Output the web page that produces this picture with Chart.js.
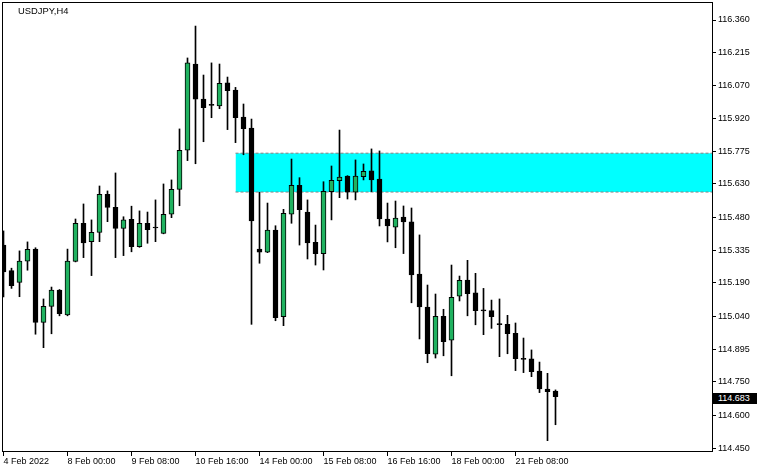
<!DOCTYPE html>
<html>
<head>
<meta charset="utf-8">
<script src="https://cdn.jsdelivr.net/npm/chart.js@4"></script>
<style>
html,body{margin:0;padding:0;background:#fff;}
#wrap{position:relative;width:757px;height:473px;overflow:hidden;}
canvas{display:block;}
#title{position:absolute;left:18px;top:5px;font:9.4px 'Liberation Sans',Arial,sans-serif;color:#000;line-height:11px;white-space:nowrap;}
#price{position:absolute;left:713px;width:44px;height:11px;background:#000;color:#fff;font:9px 'Liberation Sans',Arial,sans-serif;line-height:11px;padding-left:5px;box-sizing:border-box;white-space:nowrap;}
</style>
</head>
<body>
<div id="wrap">
<canvas id="c" width="757" height="473"></canvas>
<div id="title"></div>
<div id="price"></div>
</div>
<script>
// ---- data ----
const symbolLabel = 'USDJPY,H4';
const xTickIndex = [0, 8, 16, 24, 32, 40, 48, 56, 64];
const xTickLabels = ['4 Feb 2022', '8 Feb 00:00', '9 Feb 08:00', '10 Feb 16:00', '14 Feb 00:00',
  '15 Feb 08:00', '16 Feb 16:00', '18 Feb 00:00', '21 Feb 08:00'];
const yTickLabels = ['114.450', '114.600', '114.750', '114.895', '115.040', '115.190', '115.335',
  '115.480', '115.630', '115.775', '115.920', '116.070', '116.215', '116.360'];

const opens = [115.358,115.244,115.192,115.286,115.340,115.014,115.085,115.158,115.047,115.285,
  115.455,115.373,115.414,115.584,115.526,115.432,115.472,115.351,115.455,115.437,
  115.410,115.496,115.606,115.780,116.164,116.008,115.982,115.978,116.080,116.048,
  115.928,115.879,115.340,115.326,115.425,115.039,115.495,115.624,115.505,115.370,
  115.320,115.596,115.645,115.665,115.593,115.662,115.688,115.652,115.474,115.438,
  115.483,115.461,115.229,115.082,114.872,115.041,114.934,115.130,115.202,115.145,
  115.068,115.066,115.007,115.005,114.965,114.852,114.851,114.797,114.717,114.708];
const highs = [115.421,115.255,115.332,115.372,115.346,115.118,115.171,115.160,115.340,115.474,
  115.541,115.470,115.621,115.599,115.679,115.484,115.531,115.510,115.505,115.559,
  115.630,115.648,115.875,116.191,116.333,116.115,116.169,116.164,116.106,116.060,
  115.986,115.919,115.593,115.545,115.444,115.517,115.741,115.658,115.559,115.447,
  115.640,115.710,115.870,115.667,115.737,115.719,115.786,115.777,115.545,115.554,
  115.532,115.523,115.403,115.180,115.140,115.072,115.269,115.220,115.290,115.232,
  115.165,115.113,115.118,115.045,115.011,114.944,114.891,114.837,114.787,114.713];
const lows = [115.127,115.165,115.128,115.246,114.961,114.901,114.963,115.043,115.043,115.283,
  115.302,115.222,115.373,115.462,115.302,115.311,115.328,115.348,115.366,115.373,
  115.408,115.480,115.533,115.734,115.720,115.818,115.925,115.965,115.872,115.814,
  115.760,115.005,115.277,115.324,115.021,114.999,115.455,115.358,115.296,115.269,
  115.247,115.470,115.569,115.563,115.559,115.648,115.596,115.443,115.372,115.346,
  115.320,115.101,114.940,114.834,114.855,114.865,114.776,115.109,115.043,115.003,
  114.959,114.987,114.861,114.874,114.799,114.790,114.772,114.701,114.487,114.558];
const closes = [115.238,115.177,115.287,115.339,115.014,115.085,115.158,115.052,115.287,115.455,
  115.368,115.415,115.584,115.526,115.432,115.470,115.351,115.455,115.426,115.434,
  115.495,115.606,115.780,116.169,116.007,115.970,115.980,116.078,116.045,115.925,
  115.876,115.466,115.326,115.425,115.035,115.499,115.624,115.515,115.368,115.320,
  115.597,115.646,115.661,115.593,115.665,115.686,115.648,115.474,115.443,115.478,
  115.461,115.225,115.082,114.874,115.041,114.928,115.125,115.201,115.141,115.066,
  115.065,115.039,115.004,114.963,114.852,114.849,114.794,114.718,114.705,114.683];

// supply/demand zone (price range, starting bar)
const zoneStart = 29;
const zoneTop = 115.767;
const zoneBottom = 115.594;

// ---- view range ----
const X_MIN = -0.1875, X_MAX = 88.5625;
const Y_MIN = 114.4366, Y_MAX = 116.4357;

const FONT = {family: "'Liberation Sans', Arial, sans-serif", size: 9};
const BULL = '#20b260', BEAR = '#000000';

const wicks = lows.map((l, i) => ({x: i, y: [l, highs[i]]}));
const bodies = opens.map((o, i) => ({x: i, y: [o, closes[i]]}));
const bodyColors = opens.map((o, i) => closes[i] > o ? BULL : BEAR);

document.getElementById('title').textContent = symbolLabel;
const priceDiv = document.getElementById('price');
const lastClose = closes[closes.length - 1];
priceDiv.textContent = lastClose.toFixed(3);

const framePlugin = {
  id: 'frame',
  afterDraw(chart) {
    const {ctx, chartArea: a} = chart;
    ctx.save();
    ctx.strokeStyle = '#000';
    ctx.lineWidth = 1;
    const l = Math.round(a.left), t = Math.round(a.top), r = Math.round(a.right), b = Math.round(a.bottom);
    ctx.strokeRect(l + 0.5, t - 0.5, r - l, b - t);
    ctx.restore();
    const y = chart.scales.y.getPixelForValue(lastClose);
    priceDiv.style.top = (Math.round(y) - 4) + 'px';
  }
};

const gridOpts = {display: true, offset: false, drawOnChartArea: false, drawTicks: true, tickLength: 4, color: '#000', lineWidth: 1};

function noPad(s) {
  s.paddingTop = 0; s.paddingBottom = 0; s.paddingLeft = 0; s.paddingRight = 0;
}

new Chart(document.getElementById('c'), {
  type: 'bar',
  data: {
    datasets: [
      {type: 'line', data: [{x: zoneStart, y: zoneTop}, {x: X_MAX, y: zoneTop}],
        borderColor: '#808080', borderWidth: 1, borderDash: [3, 2], pointRadius: 0, fill: false, order: 5},
      {type: 'line', data: [{x: zoneStart, y: zoneBottom}, {x: X_MAX, y: zoneBottom}],
        borderColor: '#808080', borderWidth: 1, borderDash: [3, 2], pointRadius: 0,
        fill: '-1', backgroundColor: '#00ffff', order: 5},
      {type: 'bar', data: wicks, backgroundColor: '#000', borderWidth: 0, barThickness: 1, grouped: false, order: 1},
      {type: 'bar', data: bodies, backgroundColor: bodyColors, borderColor: '#000', borderWidth: 1,
        borderSkipped: false, barThickness: 5, minBarLength: 1, grouped: false, order: 0}
    ]
  },
  options: {
    responsive: false,
    animation: false,
    devicePixelRatio: 1,
    layout: {padding: {left: 2, top: 3, right: 0, bottom: 0}},
    plugins: {legend: {display: false}, tooltip: {enabled: false}, title: {display: false}},
    scales: {
      x: {
        type: 'linear', position: 'bottom', min: X_MIN, max: X_MAX, offset: false,
        grid: gridOpts, border: {display: false},
        afterBuildTicks: s => { s.ticks = xTickIndex.map(v => ({value: v})); },
        afterFit: s => { s.height = 21; noPad(s); },
        ticks: {autoSkip: false, maxRotation: 0, minRotation: 0, align: 'start', padding: 0,
          color: '#000', font: FONT, callback: (v, i) => xTickLabels[i]}
      },
      y: {
        type: 'linear', position: 'right', min: Y_MIN, max: Y_MAX,
        grid: gridOpts, border: {display: false},
        afterBuildTicks: s => { s.ticks = yTickLabels.map(t => ({value: parseFloat(t)})); },
        afterFit: s => { s.width = 45; noPad(s); },
        ticks: {autoSkip: false, padding: 2, color: '#000', font: FONT, callback: (v, i) => yTickLabels[i]}
      }
    }
  },
  plugins: [framePlugin]
});
</script>
</body>
</html>
